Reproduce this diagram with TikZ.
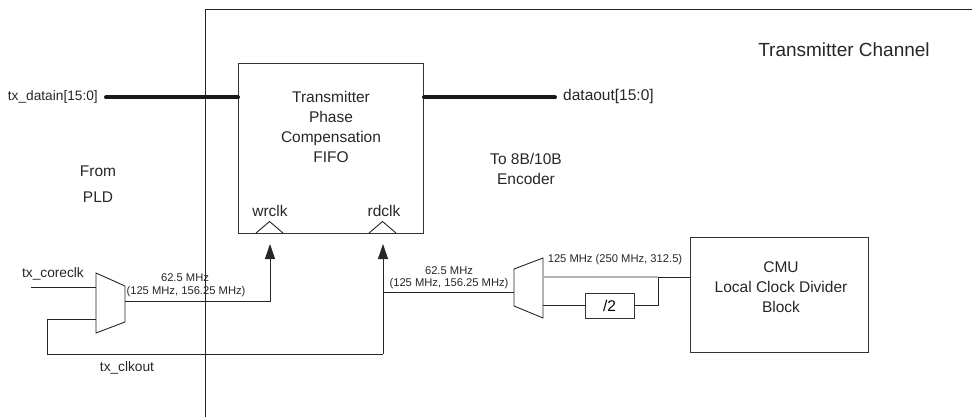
\documentclass[tikz,border=0pt]{standalone}
\usepackage{fontspec}
\setmainfont{Liberation Sans}
\usetikzlibrary{arrows.meta}
\newcommand{\fsz}[2]{\fontsize{#1}{#2}\selectfont}
\begin{document}
\begin{tikzpicture}[x=1pt,y=-1pt,
  wire/.style={line width=0.9pt, draw=black!85},
  graywire/.style={line width=1.2pt, draw=black!30},
  bus/.style={line width=4pt, draw=black!90, line cap=round},
  boxed/.style={draw=black!80, line width=1pt, inner sep=0pt},
  lbl/.style={inner sep=0pt, text=black!85},
  big/.style={font=\fsz{15.5}{20}},
  mid/.style={font=\fsz{13.7}{16}},
  small/.style={font=\fsz{11.2}{13.5}},
  arr/.style={-{Triangle[width=10pt,length=15pt]}}]
\useasboundingbox (0,0) rectangle (972,417);

% channel frame
\draw[wire] (205,417) -- (205,9) -- (972,9);
\node[lbl, font=\fsz{19}{22}] (chan) at (844,50) {Transmitter Channel};

% FIFO
\node[boxed, minimum width=185pt, minimum height=170pt, anchor=north west] (fifo) at (238,63) {};
\node[lbl, big, align=center] (fifotext) at (331,127) {Transmitter\\Phase\\Compensation\\FIFO};
\node[lbl, big] (wrlbl) at (270,211) {wrclk};
\node[lbl, big] (rdlbl) at (384,211) {rdclk};
\draw[wire] (256,233) -- (269.5,221.5) -- (283,233);
\draw[wire] (369,233) -- (382.5,221.5) -- (396,233);
\coordinate (wrin) at (270,244);
\coordinate (rdin) at (383,244);

% data buses
\coordinate (dinstart) at (106,97.5);
\coordinate (doutend) at (555,97.5);
\draw[bus] (dinstart) -- (fifo.west |- dinstart);
\draw[bus] (fifo.east |- doutend) -- (doutend);
\node[lbl, mid, anchor=east] (dinlbl) at (98,97) {tx\_datain[15:0]};
\node[lbl, big, anchor=west] (doutlbl) at (563,96) {dataout[15:0]};

\node[lbl, big] (from) at (98,171) {From};
\node[lbl, big] (pld) at (98,197) {PLD};
\node[lbl, big, align=center] (enc) at (526,169) {To 8B/10B\\Encoder};

% left mux
\draw[wire] (96,273) -- (125,286) -- (125,322) -- (96,333) -- cycle;
\coordinate (lmuxA) at (96,287);
\coordinate (lmuxB) at (96,319);
\coordinate (lmuxO) at (125,301);
\coordinate (coreclk) at (31,287);
\node[lbl, mid] (corelbl) at (53,274) {tx\_coreclk};
\draw[wire] (coreclk) -- (lmuxA);
\draw[wire, arr] (lmuxO) -| (wrin);
\node[lbl, small] (lf1) at (185,278) {62.5 MHz};
\node[lbl, small] (lf2) at (186,292) {(125 MHz, 156.25 MHz)};

% feedback / rdclk
\coordinate (fbL) at (47,354);
\coordinate (fbR) at (383,354);
\coordinate (rdj) at (383,292);
\draw[wire] (lmuxB) -| (fbL) -- (fbR);
\draw[wire, arr] (fbR) -- (rdin);
\node[lbl, mid] (clkoutlbl) at (127,368) {tx\_clkout};

% right mux
\draw[wire] (514,269) -- (543,258) -- (543,318) -- (514,306) -- cycle;
\coordinate (rmuxO) at (514,292);
\coordinate (rmuxA) at (543,277);
\coordinate (rmuxB) at (543,305.5);
\draw[wire] (rmuxO) -- (rdj);
\node[lbl, small] (rf1) at (449,271) {62.5 MHz};
\node[lbl, small] (rf2) at (449,284) {(125 MHz, 156.25 MHz)};

% CMU and divider
\node[boxed, minimum width=178pt, minimum height=115pt, anchor=north west] (cmu) at (690,237) {};
\node[lbl, big, align=center] (cmutext) at (781,287) {CMU\\Local Clock Divider\\Block};
\node[boxed, big, minimum width=49pt, minimum height=25pt] (div) at (609.5,305.5) {/2};
\coordinate (split) at (658,277);
\draw[graywire] (rmuxA) -- (split);
\draw[wire] (split) -- (split -| cmu.west);
\draw[wire] (rmuxB) -- (div.west);
\draw[wire] (div.east) -| (split);
\node[lbl, small] (cmuf) at (615,260) {125 MHz (250 MHz, 312.5)};
\end{tikzpicture}
\end{document}
